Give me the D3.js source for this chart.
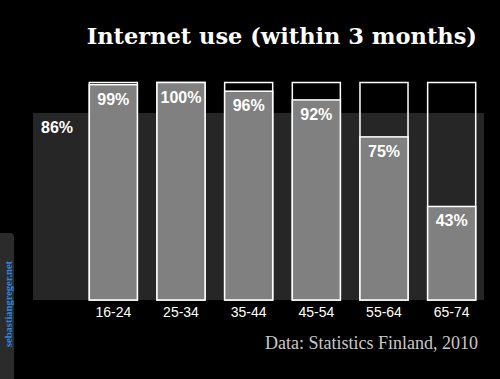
<!DOCTYPE html>
<html>
<head>
<meta charset="utf-8">
<script src="https://cdn.jsdelivr.net/npm/d3@7"></script>
<style>
  html, body { margin: 0; padding: 0; background: #000; }
  svg { display: block; }
</style>
</head>
<body>
<svg id="chart" width="500" height="379"></svg>
<script>
// Age groups and the share of internet users within each (percent).
const ageGroups = ["16-24", "25-34", "35-44", "45-54", "55-64", "65-74"];
const usage = [99, 100, 96, 92, 75, 43];
// Overall share for the whole population.
const overall = 86;

const titleText = "Internet use (within 3 months)";
const sourceText = "Data: Statistics Finland, 2010";
const creditText = "sebastiangreger.net";

// General layout of the chart.
const specs = {
    width: 500,
    height: 379,
    baseY: 300,
    topY: 82.5,
    bgLeft: 33,
    bgRight: 484
};

const svg = d3.select("#chart");

// Vertical scale: percent to pixel.
const y = d3.scaleLinear()
    .domain([0, 100])
    .range([specs.baseY, specs.topY]);

// Horizontal band scale for the age groups.
const x = d3.scaleBand()
    .domain(ageGroups)
    .range([79.5, 485.5])
    .paddingInner(0.29)
    .paddingOuter(0.145);

// Background block for the overall value.
svg.append("rect")
    .attr("x", specs.bgLeft)
    .attr("y", y(overall))
    .attr("width", specs.bgRight - specs.bgLeft)
    .attr("height", y(0) - y(overall))
    .attr("fill", "#262626");

svg.append("text")
    .attr("x", 41)
    .attr("y", y(overall) + 20)
    .attr("fill", "#fff")
    .attr("font-family", "Liberation Sans, Arial, sans-serif")
    .attr("font-weight", "bold")
    .attr("font-size", 16)
    .text(overall + "%");

// One group per age category.
const groups = svg.selectAll("g.bar")
    .data(ageGroups.map((g, i) => ({ cat: g, val: usage[i] })))
    .join("g")
    .attr("class", "bar");

// Outline of the full 100% column.
groups.append("rect")
    .attr("x", d => x(d.cat))
    .attr("y", y(100))
    .attr("width", x.bandwidth())
    .attr("height", y(0) - y(100))
    .attr("fill", "none")
    .attr("stroke", "#fff")
    .attr("stroke-width", 1.5);

// Filled part for the value.
groups.append("rect")
    .attr("x", d => x(d.cat))
    .attr("y", d => y(d.val))
    .attr("width", x.bandwidth())
    .attr("height", d => y(0) - y(d.val))
    .attr("fill", "#808080")
    .attr("stroke", "#fff")
    .attr("stroke-width", 1.5);

groups.append("text")
    .attr("x", d => x(d.cat) + x.bandwidth() / 2)
    .attr("y", d => y(d.val) + 20)
    .attr("text-anchor", "middle")
    .attr("fill", "#fff")
    .attr("font-family", "Liberation Sans, Arial, sans-serif")
    .attr("font-weight", "bold")
    .attr("font-size", 16)
    .text(d => d.val + "%");

// Category axis labels.
const xAxis = d3.axisBottom(x).tickSize(0).tickPadding(7);
const gX = svg.append("g")
    .attr("transform", `translate(0,${specs.baseY})`)
    .call(xAxis);
gX.select(".domain").remove();
gX.selectAll("text")
    .attr("fill", "#fff")
    .attr("font-family", "Liberation Sans, Arial, sans-serif")
    .attr("font-size", 14);

// Title
svg.append("text")
    .attr("x", 477)
    .attr("y", 44)
    .attr("text-anchor", "end")
    .attr("fill", "#fff")
    .attr("font-family", "DejaVu Serif, serif")
    .attr("font-weight", "bold")
    .attr("font-size", 22.5)
    .text(titleText);

// Source note
svg.append("text")
    .attr("x", 478)
    .attr("y", 349)
    .attr("text-anchor", "end")
    .attr("fill", "#c8c8c8")
    .attr("font-family", "Liberation Serif, serif")
    .attr("font-size", 18)
    .text(sourceText);

// Side tab with the site credit.
svg.append("path")
    .attr("d", "M0,233 L10,233 Q14,233 14,237 L14,379 L0,379 Z")
    .attr("fill", "#2b2b2b");

svg.append("text")
    .attr("transform", "translate(11.5,347) rotate(-90)")
    .attr("fill", "#2f86e0")
    .attr("font-family", "Liberation Serif, serif")
    .attr("font-weight", "bold")
    .attr("font-size", 10.5)
    .text(creditText);
</script>
</body>
</html>
